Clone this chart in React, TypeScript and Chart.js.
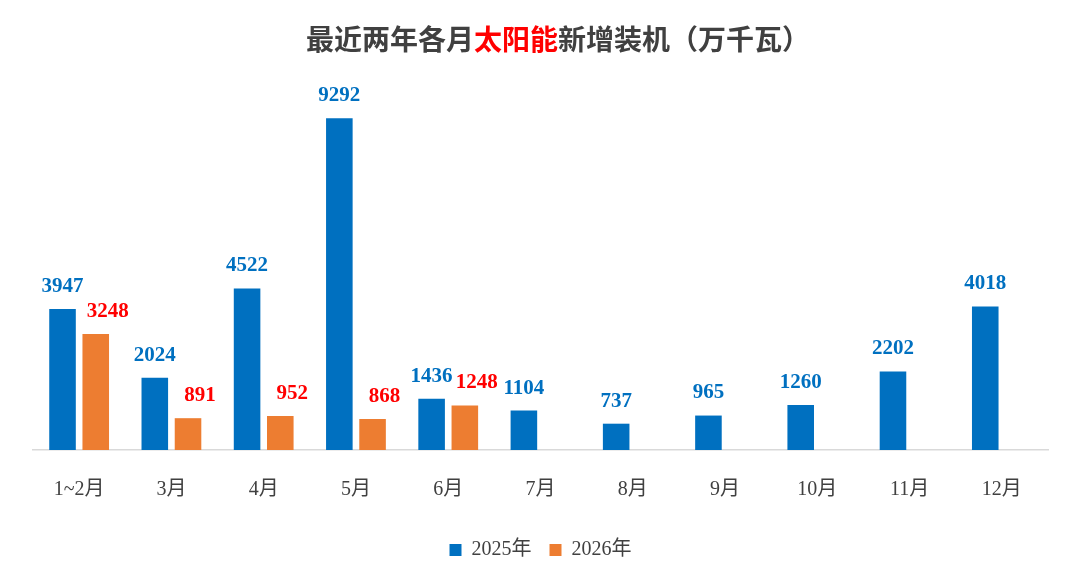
import React, { useEffect, useRef } from "react";
import { Chart, registerables } from "chart.js";
Chart.register(...registerables);

const categories = ["1~2月", "3月", "4月", "5月", "6月", "7月", "8月", "9月", "10月", "11月", "12月"];
const values2025 = [3947, 2024, 4522, 9292, 1436, 1104, 737, 965, 1260, 2202, 4018];
const values2026: (number | null)[] = [3248, 891, 952, 868, 1248, null, null, null, null, null, null];
const BLUE = "#0070C0";
const ORANGE = "#ED7D31";

const labelPlugin = {
  id: "barLabels",
  afterDatasetsDraw(chart: any) {
    const ctx = chart.ctx;
    ctx.save();
    ctx.font = "bold 21px 'Liberation Serif'";
    ctx.textAlign = "center";
    ctx.textBaseline = "bottom";
    chart.data.datasets.forEach((ds: any, i: number) => {
      ctx.fillStyle = i === 0 ? BLUE : "#FF0000";
      chart.getDatasetMeta(i).data.forEach((bar: any, j: number) => {
        const v = ds.data[j];
        if (v == null) return;
        ctx.fillText(String(v), bar.x + (i === 0 ? 0 : 12), bar.y - 12);
      });
    });
    ctx.restore();
  },
};

export default function App() {
  const ref = useRef<HTMLCanvasElement>(null);
  useEffect(() => {
    const chart = new Chart(ref.current!, {
      type: "bar",
      data: {
        labels: categories,
        datasets: [
          { label: "2025年", data: values2025, backgroundColor: BLUE, categoryPercentage: 0.72, barPercentage: 0.8 },
          { label: "2026年", data: values2026, backgroundColor: ORANGE, categoryPercentage: 0.72, barPercentage: 0.8 },
        ],
      },
      options: {
        animation: false,
        responsive: false,
        layout: { padding: { top: 85, left: 25, right: 24, bottom: 6 } },
        scales: {
          y: { display: false, min: 0, max: 10000 },
          x: {
            grid: { display: false },
            border: { color: "#D9D9D9", width: 1.5 },
            ticks: { color: "#404040", font: { family: "'Liberation Serif', 'Noto Sans CJK SC'", size: 20 }, padding: 20 },
          },
        },
        plugins: {
          legend: {
            position: "bottom",
            labels: {
              color: "#404040",
              font: { family: "'Liberation Serif', 'Noto Sans CJK SC'", size: 20 },
              boxWidth: 12,
              boxHeight: 12,
              padding: 18,
            },
          },
          tooltip: { enabled: false },
        },
      },
      plugins: [labelPlugin],
    });
    return () => chart.destroy();
  }, []);
  return (
    <div style={{ position: "relative", width: 1064, height: 568 }}>
      <div
        style={{
          position: "absolute",
          top: 10,
          left: 0,
          width: 1100,
          textAlign: "center",
          font: "bold 28px 'Noto Sans CJK SC'",
          color: "#404040",
        }}
      >
        最近两年各月<span style={{ color: "#FF0000" }}>太阳能</span>新增装机（万千瓦）
      </div>
      <canvas ref={ref} width={1064} height={568} />
    </div>
  );
}
